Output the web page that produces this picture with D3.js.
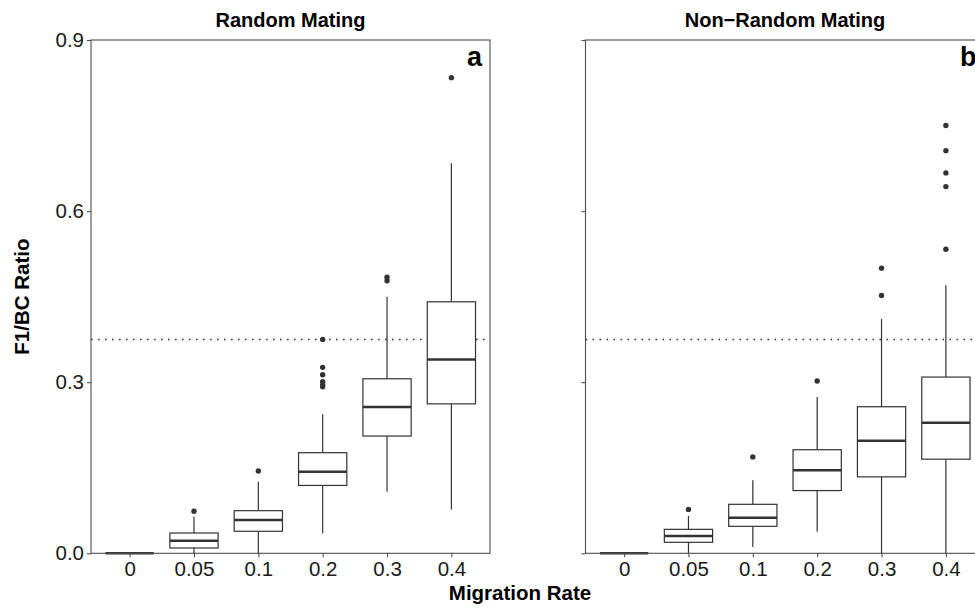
<!DOCTYPE html>
<html>
<head>
<meta charset="utf-8">
<script src="https://cdn.jsdelivr.net/npm/d3@7"></script>
<style>
  html, body { margin: 0; padding: 0; background: #fff; }
  svg { display: block; font-family: "Liberation Sans", Arial, Helvetica, sans-serif; }
</style>
</head>
<body>
<svg id="chart" width="975" height="608"></svg>
<script>
// Migration rate categories shared by both panels
const categories = ["0", "0.05", "0.1", "0.2", "0.3", "0.4"];
const yTicks = [0, 0.3, 0.6, 0.9];
const thresholdRatio = 0.375;

// Random mating: box statistics per migration rate
const randomLowWhisker = [0, 0, 0, 0.035, 0.108, 0.077];
const randomQ1 = [0, 0.0093, 0.0386, 0.119, 0.2056, 0.262];
const randomMedian = [0, 0.022, 0.0584, 0.143, 0.2565, 0.340];
const randomQ3 = [0, 0.0356, 0.0747, 0.1764, 0.306, 0.441];
const randomHighWhisker = [0, 0.064, 0.1256, 0.244, 0.450, 0.684];
const randomOutliers = [
  [],
  [0.0736],
  [0.1443],
  [0.375, 0.326, 0.313, 0.301, 0.295, 0.292],
  [0.478, 0.484],
  [0.834]
];

// Non-random mating: box statistics per migration rate
const nonRandomLowWhisker = [0, 0, 0.011, 0.038, 0, 0];
const nonRandomQ1 = [0, 0.0193, 0.0473, 0.110, 0.134, 0.165];
const nonRandomMedian = [0, 0.0303, 0.0624, 0.1455, 0.1974, 0.229];
const nonRandomQ3 = [0, 0.042, 0.0859, 0.1816, 0.257, 0.309];
const nonRandomHighWhisker = [0, 0.0654, 0.128, 0.274, 0.411, 0.470];
const nonRandomOutliers = [
  [],
  [0.077],
  [0.169],
  [0.302],
  [0.500, 0.452],
  [0.750, 0.706, 0.667, 0.643, 0.533]
];

const panels = [
  {
    title: "Random Mating", tag: "a", left: 91, right: 490, showYLabels: true,
    low: randomLowWhisker, q1: randomQ1, med: randomMedian, q3: randomQ3,
    high: randomHighWhisker, out: randomOutliers
  },
  {
    title: "Non\u2212Random Mating", tag: "b", left: 585.5, right: 984.5, showYLabels: false,
    low: nonRandomLowWhisker, q1: nonRandomQ1, med: nonRandomMedian, q3: nonRandomQ3,
    high: nonRandomHighWhisker, out: nonRandomOutliers
  }
];

const plotTop = 40, plotBottom = 553.3;
const ink = "#333333";
const frame = "#4d4d4d";
const labelSize = 20.5;

const svg = d3.select("#chart");
const y = d3.scaleLinear().domain([0, 0.9]).range([plotBottom, plotTop]);

panels.forEach(p => {
  const x = d3.scalePoint().domain(categories).range([p.left, p.right]).padding(0.6);
  const boxW = x.step() * 0.75;
  const g = svg.append("g");

  // Threshold line
  g.append("line")
    .attr("x1", p.left).attr("x2", p.right)
    .attr("y1", y(thresholdRatio)).attr("y2", y(thresholdRatio))
    .attr("stroke", ink).attr("stroke-width", 1.6)
    .attr("stroke-dasharray", "1.6,5.4");

  const rows = categories.map((c, i) => ({
    c, low: p.low[i], q1: p.q1[i], med: p.med[i], q3: p.q3[i], high: p.high[i], out: p.out[i]
  }));

  const box = g.selectAll(".box").data(rows).enter().append("g").attr("class", "box");

  // Whiskers
  box.append("line")
    .attr("x1", d => x(d.c)).attr("x2", d => x(d.c))
    .attr("y1", d => y(d.q3)).attr("y2", d => y(d.high))
    .attr("stroke", ink).attr("stroke-width", 1.2);
  box.append("line")
    .attr("x1", d => x(d.c)).attr("x2", d => x(d.c))
    .attr("y1", d => y(d.q1)).attr("y2", d => y(d.low))
    .attr("stroke", ink).attr("stroke-width", 1.2);

  // Boxes
  box.append("rect")
    .attr("x", d => x(d.c) - boxW / 2).attr("width", boxW)
    .attr("y", d => y(d.q3)).attr("height", d => y(d.q1) - y(d.q3))
    .attr("fill", "#fff").attr("stroke", ink).attr("stroke-width", 1.2);

  // Medians
  box.append("line")
    .attr("x1", d => x(d.c) - boxW / 2).attr("x2", d => x(d.c) + boxW / 2)
    .attr("y1", d => y(d.med)).attr("y2", d => y(d.med))
    .attr("stroke", ink).attr("stroke-width", 2.5);

  // Outliers
  box.selectAll("circle").data(d => d.out.map(v => ({ c: d.c, v }))).enter()
    .append("circle")
    .attr("cx", d => x(d.c)).attr("cy", d => y(d.v)).attr("r", 2.7)
    .attr("fill", ink);

  // Panel frame
  g.append("rect")
    .attr("x", p.left).attr("y", plotTop)
    .attr("width", p.right - p.left).attr("height", plotBottom - plotTop)
    .attr("fill", "none").attr("stroke", frame).attr("stroke-width", 1.1);

  // Y axis
  const yAxis = d3.axisLeft(y).tickValues(yTicks).tickSize(4).tickPadding(3)
    .tickFormat(p.showYLabels ? d3.format(".1f") : () => "");
  const ya = g.append("g").attr("transform", `translate(${p.left},0)`).call(yAxis);
  ya.select(".domain").remove();
  ya.selectAll(".tick line").attr("stroke", frame).attr("stroke-width", 1.1);
  ya.selectAll(".tick text").attr("font-size", labelSize).attr("fill", "#1a1a1a");

  // X axis
  const xAxis = d3.axisBottom(x).tickSize(4).tickPadding(4);
  const xa = g.append("g").attr("transform", `translate(0,${plotBottom})`).call(xAxis);
  xa.select(".domain").remove();
  xa.selectAll(".tick line").attr("stroke", frame).attr("stroke-width", 1.1);
  xa.selectAll(".tick text").attr("font-size", labelSize).attr("fill", "#1a1a1a");

  // Panel title and tag
  g.append("text")
    .attr("x", (p.left + p.right) / 2).attr("y", 27)
    .attr("text-anchor", "middle").attr("font-size", 20).attr("font-weight", "bold")
    .attr("fill", "#000").text(p.title);
  g.append("text")
    .attr("x", p.right - 8).attr("y", 66)
    .attr("text-anchor", "end").attr("font-size", 27).attr("font-weight", "bold")
    .attr("fill", "#000").text(p.tag);
});

// Axis titles
svg.append("text")
  .attr("transform", `translate(29,${(plotTop + plotBottom) / 2}) rotate(-90)`)
  .attr("text-anchor", "middle").attr("font-size", 20.5).attr("font-weight", "bold")
  .attr("fill", "#000").text("F1/BC Ratio");
svg.append("text")
  .attr("x", 520).attr("y", 600)
  .attr("text-anchor", "middle").attr("font-size", 20.5).attr("font-weight", "bold")
  .attr("fill", "#000").text("Migration Rate");
</script>
</body>
</html>
